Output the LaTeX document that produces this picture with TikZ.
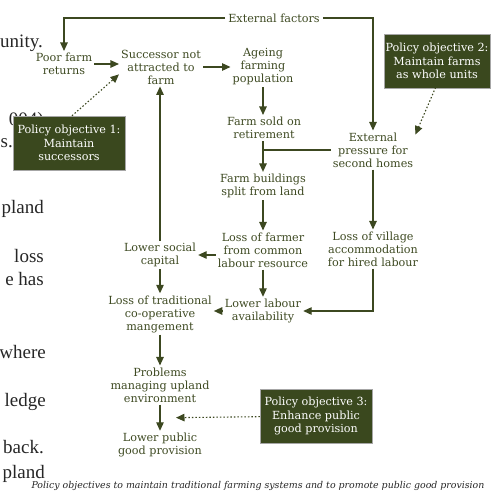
\documentclass[tikz,border=0pt]{standalone}
\usepackage{fontspec}
\newfontfamily\diagfont{DejaVu Serif}
\newfontfamily\pagefont{Liberation Serif}
\definecolor{olivebox}{RGB}{58,72,30}
\definecolor{oliveline}{RGB}{60,72,32}
\definecolor{olivetext}{RGB}{62,74,34}
\usetikzlibrary{calc, arrows.meta}

\begin{document}
\begin{tikzpicture}[
    x=1pt, y=-1pt,
    lbl/.style={text=olivetext, font=\diagfont\fontsize{11.2}{13}\selectfont,
      align=center, inner sep=2pt},
    policy/.style={fill=olivebox, draw=gray!70, line width=0.4pt, text=white,
      font=\diagfont\fontsize{11.2}{13.5}\selectfont, align=center,
      minimum width=112pt, minimum height=54pt, inner sep=1pt},
    arr/.style={draw=oliveline, line width=1.2pt, -{Triangle[length=8.5pt,width=7.5pt]}},
    dotarr/.style={arr, line width=1.1pt, dash pattern=on 1.5pt off 2pt},
    pagetext/.style={text=black!85, font=\pagefont\fontsize{19}{22}\selectfont,
      anchor=base east, inner sep=0pt},
  ]
    \useasboundingbox (0,0) rectangle (498,492);
    % text of the page behind the figure
    \node[pagetext] (p1) at (43,48) {unity.};
    \node[pagetext] (p2) at (44,126) {004)};
    \node[pagetext] (p3) at (13,148) {s.};
    \node[pagetext] (p4) at (44,213) {pland};
    \node[pagetext] (p5) at (44,262) {loss};
    \node[pagetext] (p6) at (44,285) {e has};
    \node[pagetext] (p7) at (46,358) {where};
    \node[pagetext] (p8) at (46,406) {ledge};
    \node[pagetext] (p9) at (44,453) {back.};
    \node[pagetext] (p10) at (45,478) {pland};

    \node[lbl, inner sep=3pt] (ext) at (274,18) {External factors};
    \node[lbl] (poor) at (64,64) {Poor farm\\returns};
    \node[lbl] (succ) at (161,67) {Successor not\\attracted to\\farm};
    \node[lbl] (age) at (263,67) {Ageing\\farming\\population};
    \node[lbl] (sold) at (264,128) {Farm sold on\\retirement};
    \node[lbl] (press) at (373,150) {External\\pressure for\\second homes};
    \node[lbl] (split) at (263,186) {Farm buildings\\split from land};
    \node[lbl] (farmer) at (263,250) {Loss of farmer\\from common\\labour resource};
    \node[lbl] (village) at (373,249) {Loss of village\\accommodation\\for hired labour};
    \node[lbl] (social) at (160,255) {Lower social\\capital};
    \node[lbl] (labour) at (263,311) {Lower labour\\availability};
    \node[lbl] (trad) at (160,314) {Loss of traditional\\co-operative\\mangement};
    \node[lbl] (problems) at (160,385) {Problems\\managing upland\\environment};
    \node[lbl] (public) at (160,445) {Lower public\\good provision};

    \node[policy] (pol1) at (69,143) {Policy objective 1:\\Maintain\\successors};
    \node[policy, minimum width=106pt] (pol2) at (437,61) {Policy objective 2:\\Maintain farms\\as whole units};
    \node[policy] (pol3) at (316,416) {Policy objective 3:\\Enhance public\\good provision};

    \node[text=black!85, font=\diagfont\itshape\fontsize{9.4}{11}\selectfont] (caption) at (258,486)
      {Policy objectives to maintain traditional farming systems and to promote public good provision};

    \draw[arr] (ext.west) -| (poor.north);
    \draw[arr] (ext.east) -| (press.north);
    \draw[arr] (poor) -- (poor -| succ.west);
    \draw[arr] (succ) -- (succ -| age.west);
    \draw[arr] (age.south) -- (age.south |- sold.north);
    \draw[arr] (sold.south -| split.north) -- (split.north);
    \draw[oliveline, line width=1.2pt] (press.west) -- (split.north |- press.west);
    \draw[arr] (split) -- (farmer);
    \draw[arr] (farmer) -- (labour);
    \draw[arr] (press) -- (village);
    \draw[arr] (village.south) |- (labour.east);
    \draw[arr] (farmer.west |- social.east) -- (social.east);
    \draw[arr] (social.north) -- (social.north |- succ.south);
    \draw[arr] (social) -- (trad);
    \draw[arr] (labour.west) -- (labour.west -| trad.east);
    \draw[arr] (trad) -- (problems);
    \draw[arr] (problems) -- (public);

    \path ($(problems.south)!.5!(public.north)$) ++(16,0) coordinate (pgood);
    \draw[dotarr] ([xshift=3pt]pol1.north) -- (succ.190);
    \draw[dotarr] ([yshift=4pt]pol2.south) -- (press.20);
    \draw[dotarr] (pol3) -- (pgood);
\end{tikzpicture}
\end{document}
